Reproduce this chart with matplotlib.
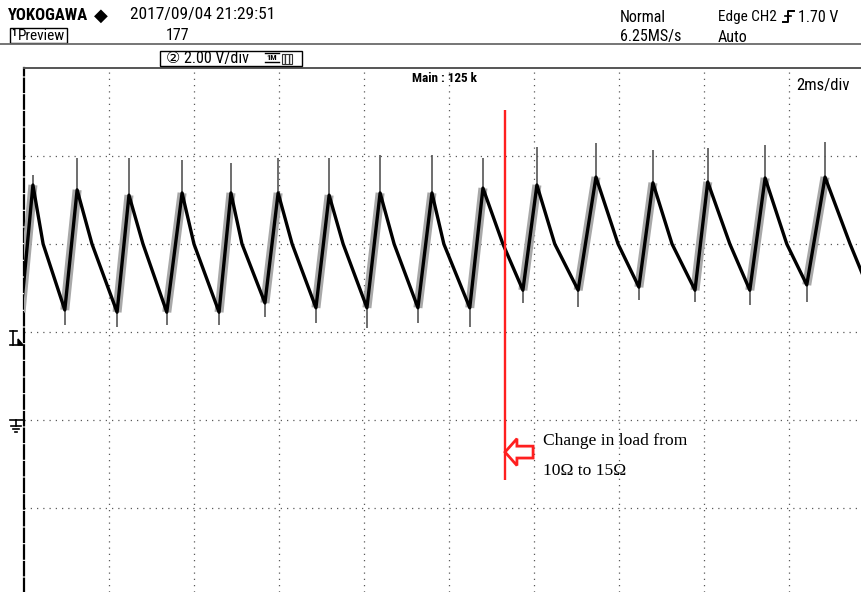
import numpy as np
import matplotlib
matplotlib.use("Agg")
from matplotlib import pyplot as plt
from matplotlib import font_manager
from matplotlib.lines import Line2D
from matplotlib.patches import Rectangle, Polygon
from matplotlib.collections import LineCollection

W, H = 862, 592

# CH2 turning points: time in ms from the left screen edge, level in V
trough_t = [-0.07, 0.96, 2.19, 3.36, 4.59, 5.67, 6.87, 8.07, 9.27, 10.49,
            11.74, 13.04, 14.47, 15.79, 17.08, 18.42]
trough_v = [2.45, 2.50, 2.45, 2.45, 2.45, 2.66, 2.55, 2.55, 2.55, 2.55,
            2.95, 2.95, 3.02, 2.95, 2.95, 3.07]
peak_t = [0.21, 1.25, 2.47, 3.72, 4.87, 5.98, 7.18, 8.38, 9.60, 10.80,
          12.07, 13.46, 14.80, 16.09, 17.44, 18.85]
peak_v = [5.34, 5.23, 5.11, 5.16, 5.16, 5.16, 5.11, 5.16, 5.16, 5.27,
          5.34, 5.52, 5.39, 5.41, 5.50, 5.52]
# where each falling edge crosses the 4 V line
fall_t = [0.45, 1.60, 2.80, 4.00, 5.13, 6.31, 7.51, 8.71, 9.88, 11.27,
          12.49, 13.98, 15.25, 16.61, 17.95, 19.44]
fall_v = [4.0] * 16
end_t, end_v = 19.72, 3.34
# switching spikes on top of the peaks / below the valleys
spike_hi = [5.57, 5.95, 5.95, 5.91, 5.84, 5.95, 5.95, 6.02, 6.02, 5.95,
            6.20, 6.30, 6.14, 6.18, 6.25, 6.32]
spike_lo = [2.16, 2.16, 2.11, 2.16, 2.16, 2.34, 2.20, 2.09, 2.20, 2.11,
            2.66, 2.57, 2.73, 2.68, 2.61, 2.68]

step_t = 11.32          # load change instant (ms)
step_span = (-1.36, 7.05)
arrow_v = -0.73
note_lines = ["Change in load from", "10\u03a9 to 15\u03a9"]

# pick a narrow face for the scope header if one is installed
names = {f.name for f in font_manager.fontManager.ttflist}
narrow = next((n for n in ["Liberation Sans Narrow", "Roboto Condensed",
                           "Open Sans Condensed", "DejaVu Sans Condensed"]
               if n in names), "Liberation Sans")
hfont = [narrow, "DejaVu Sans"]


def fx(x):
    return x / W


def fy(y):
    return 1 - y / H


def fig_line(fig, xs, ys, **kw):
    fig.add_artist(Line2D([fx(x) for x in xs], [fy(y) for y in ys], **kw))


def fig_text(fig, x, y, s, size=11.5, **kw):
    fig.text(fx(x), fy(y), s, fontsize=size, family=hfont, va="center", **kw)


fig = plt.figure(figsize=(W / 100, H / 100), dpi=100)
ax = fig.add_axes([fx(24), 0, 1 - fx(24), fy(68)])
ax.set_xlim(0, 19.72)
ax.set_ylim(-3.91, 8.0)

ax.set_xticks(np.arange(2, 20, 2))
ax.set_yticks([-2, 0, 2, 4, 6])
ax.grid(True, color="#5a5a5a", linestyle=(0, (1, 4)), lw=0.9)
ax.tick_params(length=0, labelleft=False, labelbottom=False)
for s in ["right", "bottom"]:
    ax.spines[s].set_visible(False)
ax.spines["top"].set_color("#555555")
ax.spines["top"].set_linewidth(1.4)
ax.spines["left"].set_color("black")
ax.spines["left"].set_linewidth(1.6)
ax.spines["left"].set_linestyle((0, (6, 1.5)))

# waveform: valley -> peak -> 4 V crossing -> next valley ...
wave_t = np.append(np.column_stack([trough_t, peak_t, fall_t]).ravel(), end_t)
wave_v = np.append(np.column_stack([trough_v, peak_v, fall_v]).ravel(), end_v)

rises = [[(a, b), (c, d)] for a, b, c, d in zip(trough_t, trough_v, peak_t, peak_v)]
ax.add_collection(LineCollection(rises, colors="#a8a8a8", linewidths=6.5,
                                 capstyle="butt", zorder=3))
ax.vlines(peak_t, peak_v, spike_hi, colors="#555555", lw=1.2, zorder=3)
ax.vlines(trough_t, spike_lo, trough_v, colors="#555555", lw=1.2, zorder=3)
ax.plot(wave_t, wave_v, color="black", lw=2.4, solid_joinstyle="round", zorder=4)

# load step marker and note
ax.vlines(step_t, *step_span, color="#ff1f1f", lw=1.7, zorder=5)
ax.arrow(11.98, arrow_v, step_t - 11.98, 0, width=0.27, head_width=0.61,
         head_length=0.28, length_includes_head=True, fc="white",
         ec="#ff1f1f", lw=2, zorder=6)
ax.text(12.21, -0.57, note_lines[0], family="Liberation Serif",
        fontsize=12.6, va="baseline")
ax.text(12.21, -1.25, note_lines[1], family="Liberation Serif",
        fontsize=12.6, va="baseline")

# scope header
fig_text(fig, 8, 16, "YOKOGAWA", size=12, fontweight="bold")
fig_text(fig, 94, 16, "\u25c6", size=13)
fig_text(fig, 130, 15, "2017/09/04 21:29:51", size=12.5)
fig.add_artist(Rectangle((fx(10), fy(43)), fx(57), 15 / H, fill=False,
                         ec="black", lw=1))
fig_text(fig, 11, 33, "1", size=7, fontweight="bold")
fig_text(fig, 18, 36, "Preview", size=11)
fig_text(fig, 166, 36, "177")
fig_line(fig, [0, W], [44, 44], color="#6a6a6a", lw=1.3)

fig.add_artist(Rectangle((fx(160), fy(66)), fx(142), 15 / H, fill=False,
                         ec="black", lw=1))
fig_text(fig, 166, 58.5, "\u2461 2.00 V/div")
fig_text(fig, 266, 57, "1M", size=6, fontweight="bold")
fig_line(fig, [265, 279], [53, 53], color="black", lw=1)
fig_line(fig, [265, 279], [62, 62], color="black", lw=1)
fig.add_artist(Rectangle((fx(282), fy(64)), fx(10), 10 / H, fill=False,
                         ec="#333333", lw=0.8, hatch="||||"))

fig_text(fig, 620, 17, "Normal")
fig_text(fig, 620, 37, "6.25MS/s")
fig_text(fig, 718, 17, "Edge CH2", size=11)
fig_line(fig, [783, 788, 788, 794], [22, 22, 11, 11], color="black", lw=1.4)
fig_line(fig, [785, 791], [16, 16], color="black", lw=1.2)
fig_text(fig, 798, 17, "1.70 V")
fig_text(fig, 718, 37, "Auto")

fig_text(fig, 412, 78, "Main : 125 k", size=9.5, fontweight="bold")
fig_text(fig, 796, 85, "2ms/div", size=12)

# trigger level and ground markers on the left edge
fig_line(fig, [10, 17], [331, 331], color="black", lw=1.2)
fig_line(fig, [13, 13], [331, 345], color="black", lw=1.2)
fig_line(fig, [10, 22], [345, 345], color="black", lw=1.2)
fig.add_artist(Polygon([(fx(18), fy(339)), (fx(23), fy(345)), (fx(18), fy(345))],
                       closed=True, color="black"))
fig_line(fig, [10, 24], [420, 420], color="black", lw=1.2)
fig_line(fig, [16, 16], [420, 426], color="black", lw=1.2)
fig_line(fig, [11, 21], [426, 426], color="black", lw=1.2)
fig_line(fig, [13, 19], [429, 429], color="black", lw=1.2)
fig_line(fig, [15, 17], [432, 432], color="black", lw=1.2)

fig.savefig("out.png", dpi=100)
